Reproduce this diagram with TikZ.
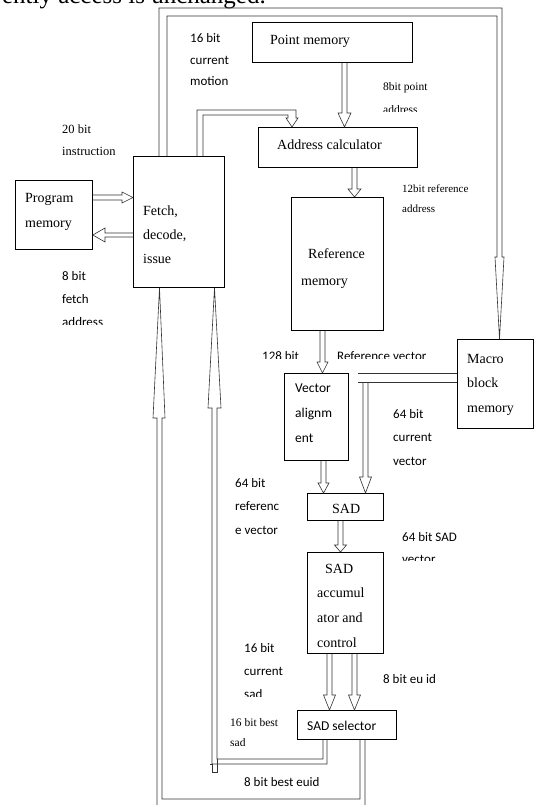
\documentclass[tikz,border=0pt]{standalone}
\usepackage{fontspec}
\setmainfont{Liberation Serif}
\newfontfamily\calibrifont{Carlito}
\newcommand{\rowtxt}[1]{\hbox{#1}}
\tikzset{
  box/.style={draw=black, line width=0.8pt, anchor=north west, inner sep=0pt},
  pipe/.style={draw=black!80, line width=0.6pt, line join=miter},
  lbl/.style={anchor=base west, inner sep=0pt, font=\calibrifont\fontsize{13}{23.5}\selectfont},
  slbl/.style={anchor=base west, inner sep=0pt, font=\fontsize{11.5}{23}\selectfont},
  btxt/.style={anchor=base west, inner sep=0pt, font=\fontsize{14}{24.5}\selectfont},
}
\begin{document}
\begin{tikzpicture}[x=1pt,y=-1pt]
\useasboundingbox (0,0) rectangle (538,805);
\fill[white] (0,0) rectangle (538,805);
\clip (0,0) rectangle (538,805);

% cut-off text at the top
\node[anchor=base east, inner sep=0pt, font=\fontsize{25}{28}\selectfont] (toptxt) at (266,3.5) {ently access is unchanged.};

% boxes
\node[box, minimum width=160pt, minimum height=40pt]  (pm)    at (252,22)  {};
\node[box, minimum width=159pt, minimum height=40pt]  (ac)    at (258,127) {};
\node[box, minimum width=77pt,  minimum height=69pt]  (prog)  at (15,180)  {};
\node[box, minimum width=91pt,  minimum height=131pt] (fetch) at (133,156) {};
\node[box, minimum width=92pt,  minimum height=133pt] (ref)   at (291,197) {};
\node[box, minimum width=64pt,  minimum height=87pt]  (va)    at (284,373) {};
\node[box, minimum width=76pt,  minimum height=89pt]  (mb)    at (457,339) {};
\node[box, minimum width=76pt,  minimum height=27pt]  (sad)   at (307,493) {};
\node[box, minimum width=76pt,  minimum height=101pt] (acc)   at (307,552) {};
\node[box, minimum width=99pt,  minimum height=29pt]  (sel)   at (297,710) {};

% box texts
\node[btxt] (pmt)  at (270,45)  {Point memory};
\node[btxt] (act)  at (277,150) {Address calculator};
\node[btxt] (prt)  at (25,202)  {\vtop{\baselineskip=25pt\rowtxt{Program}\rowtxt{memory}}};
\node[btxt] (fet)  at (143,215) {\vtop{\baselineskip=24pt\rowtxt{Fetch,}\rowtxt{decode,}\rowtxt{issue}}};
\node[btxt] (reft) at (301,258) {\vtop{\baselineskip=27pt\rowtxt{\hspace{7pt}Reference}\rowtxt{memory}}};
\node[lbl, font=\calibrifont\fontsize{13.5}{25}\selectfont] (vat) at (295,392) {\vtop{\rowtxt{Vector}\rowtxt{alignm}\rowtxt{ent}}};
\node[btxt] (mbt)  at (467,363) {\vtop{\rowtxt{Macro}\rowtxt{block}\rowtxt{memory}}};
\node[btxt] (sadt) at (332,513) {SAD};
\node[btxt] (acct) at (317,573) {\vtop{\baselineskip=24.7pt\rowtxt{\hspace{8pt}SAD}\rowtxt{accumul}\rowtxt{ator and}\rowtxt{control}}};
\node[lbl, font=\calibrifont\fontsize{13.5}{16}\selectfont] (selt) at (307,730) {SAD selector};

% connectors (hollow block arrows)
\draw[pipe] (fetch.north -| 159,0) -- (159,8) -- (502,8) -- (502,257) -- (504,257) -- (mb.north -| 499.5,0)
  -- (495,257) -- (497,257) -- (497,16) -- (167,16) -- (fetch.north -| 167,0);
\draw[pipe] (fetch.north -| 197,0) -- (197,110) -- (296,110) -- (296,118) -- (298,118) -- (ac.north -| 292,0)
  -- (286,118) -- (288,118) -- (288,115) -- (203,115) -- (fetch.north -| 203,0);
\draw[pipe] (pm.south -| 342,0) -- (342,113) -- (338,113) -- (ac.north -| 344.5,0) -- (351,113) -- (347,113) -- (pm.south -| 347,0);
\draw[pipe] (ac.south -| 352,0) -- (352,189) -- (348,189) -- (ref.north -| 354.5,0) -- (361,189) -- (357,189) -- (ac.south -| 357,0);
\draw[pipe] (ref.south -| 320,0) -- (320,362) -- (317,362) -- (va.north -| 322.5,0) -- (328,362) -- (325,362) -- (ref.south -| 325,0);
\draw[pipe] (va.south -| 321,0) -- (321,483) -- (318,483) -- (sad.north -| 323.5,0) -- (329,483) -- (326,483) -- (va.south -| 326,0);
\draw[pipe] (mb.west |- 0,373) -- (358,373);
\draw[pipe] (mb.west |- 0,382) -- (358,382);
\draw[pipe] (363,382) -- (363,477) -- (359.5,477) -- (sad.north -| 365.5,0) -- (371.5,477) -- (368,477) -- (368,382);
\draw[pipe] (sad.south -| 338,0) -- (338,545) -- (334.5,545) -- (acc.north -| 340.5,0) -- (346.5,545) -- (343,545) -- (sad.south -| 343,0);
\draw[pipe] (acc.south -| 327,0) -- (327,695) -- (323.5,695) -- (sel.north -| 329.5,0) -- (335.5,695) -- (332,695) -- (acc.south -| 332,0);
\draw[pipe] (acc.south -| 352,0) -- (352,695) -- (348.5,695) -- (sel.north -| 354.5,0) -- (360.5,695) -- (357,695) -- (acc.south -| 357,0);
\draw[pipe] (sel.south -| 327,0) -- (327,764) -- (212,764) -- (212,408) -- (208,408) -- (fetch.south -| 214.5,0)
  -- (221,408) -- (217,408) -- (217,759) -- (323,759) -- (sel.south -| 323,0);
\draw[pipe] (210,764) -- (212,764) -- (212,772) -- (217,772) -- (217,759);
\draw[pipe] (sel.south -| 365,0) -- (365,815) -- (157,815) -- (157,418) -- (153,418) -- (fetch.south -| 159.5,0)
  -- (165,418) -- (162,418) -- (162,799) -- (360,799) -- (sel.south -| 360,0);
\draw[pipe] (fetch.west |- 0,233) -- (105,233) -- (105,228) -- (prog.east |- 0,235) -- (105,242) -- (105,237) -- (fetch.west |- 0,237);
\draw[pipe] (prog.east |- 0,195) -- (122,195) -- (122,192) -- (fetch.west |- 0,197.5) -- (122,203) -- (122,200) -- (prog.east |- 0,200);

% labels
\node[lbl] (lmot) at (190,43) {\vtop{\baselineskip=21.5pt\rowtxt{16 bit}\rowtxt{current}\rowtxt{motion}}};
\begin{scope}
  \clip (370,70) rectangle (470,112);
  \node[slbl] (lpt) at (383,91) {\vtop{\rowtxt{8bit point}\rowtxt{address}}};
\end{scope}
\begin{scope}
  \clip (50,115) rectangle (132,155);
  \node[slbl, font=\fontsize{12.5}{22}\selectfont] (linstr) at (62,134) {\vtop{\rowtxt{20 bit}\rowtxt{instruction}}};
\end{scope}
\begin{scope}
  \clip (50,260) rectangle (132,324);
  \node[lbl] (lfa) at (62,280) {\vtop{\baselineskip=23pt\rowtxt{8 bit}\rowtxt{fetch}\rowtxt{address}}};
\end{scope}
\node[slbl, font=\fontsize{11}{20}\selectfont] (lra) at (402,193) {\vtop{\rowtxt{12bit reference}\rowtxt{address}}};
\begin{scope}
  \clip (250,340) rectangle (456,358);
  \node[lbl] (l128) at (262,360) {128 bit};
  \node[lbl] (lrv) at (337,360) {Reference vector};
\end{scope}
\node[lbl] (lcv) at (393,418) {\vtop{\rowtxt{64 bit}\rowtxt{current}\rowtxt{vector}}};
\node[lbl] (lrefv) at (235,487) {\vtop{\rowtxt{64 bit}\rowtxt{referenc}\rowtxt{e vector}}};
\begin{scope}
  \clip (395,520) rectangle (538,560);
  \node[lbl] (lsv) at (402,541) {\vtop{\baselineskip=22pt\rowtxt{64 bit SAD}\rowtxt{vector}}};
\end{scope}
\begin{scope}
  \clip (235,630) rectangle (305,696);
  \node[lbl] (lcs) at (244,652) {\vtop{\baselineskip=23pt\rowtxt{16 bit}\rowtxt{current}\rowtxt{sad}}};
\end{scope}
\node[lbl] (leu) at (383,683) {8 bit eu id};
\begin{scope}
  \clip (222,705) rectangle (296,745);
  \node[slbl, font=\fontsize{11.5}{20}\selectfont] (lbs) at (230,726) {\vtop{\rowtxt{16 bit best}\rowtxt{sad}}};
\end{scope}
\node[lbl] (lbe) at (244,786) {8 bit best euid};
\end{tikzpicture}
\end{document}
